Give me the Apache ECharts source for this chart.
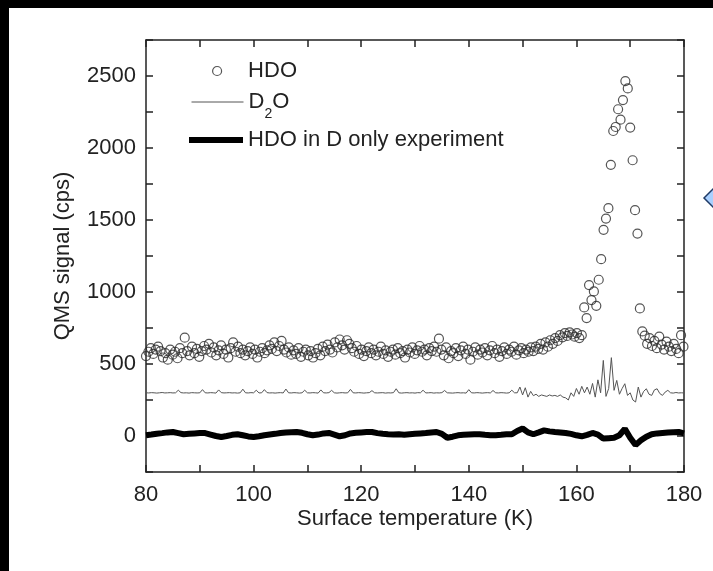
<!DOCTYPE html>
<html>
<head>
<meta charset="utf-8">
<style>
  html, body { margin: 0; padding: 0; background: #fff; }
  #chart { width: 713px; height: 571px; }
</style>
<script src="https://cdn.jsdelivr.net/npm/echarts@6/dist/echarts.min.js"></script>
</head>
<body>
<div id="chart"></div>
<script>
// HDO (open circles), sampled every 0.45 K from 80 K
const hdoStart = 80;
const hdoStep = 0.45;
const hdoSignal = [
	555, 585, 610, 570, 600, 620, 590, 545, 575, 530,
	600, 565, 585, 540, 610, 575, 683, 590, 560, 620,
	575, 605, 550, 590, 625, 600, 640, 580, 615, 560,
	595, 630, 570, 600, 545, 610, 650, 585, 620, 575,
	600, 560, 590, 615, 570, 600, 545, 585, 610, 575,
	595, 630, 605, 650, 590, 625, 660, 600, 580, 615,
	565, 595, 570, 610, 550, 585, 600, 560, 590, 545,
	575, 605, 560, 620, 590, 635, 600, 580, 650, 615,
	670, 630, 600, 665, 640, 610, 585, 625, 570, 600,
	555, 590, 615, 575, 600, 560, 585, 620, 570, 595,
	550, 585, 600, 565, 610, 575, 590, 545, 600, 580,
	615, 570, 595, 625, 585, 600, 560, 610, 590, 620,
	585, 676, 600, 560, 615, 540, 590, 575, 610, 555,
	595, 620, 570, 600, 530, 585, 615, 565, 600, 580,
	610, 560, 595, 625, 575, 600, 550, 590, 615, 570,
	600, 585, 620, 565, 595, 610, 575, 600, 585, 615,
	590, 620, 605, 640, 600, 650, 620, 665, 640, 680,
	660, 700, 685, 715, 695, 720, 705, 690, 715, 680, 700,
	893, 819, 1048, 944, 1004, 904, 1085, 1228, 1432, 1510, 1582, 1883,
	2118, 2146, 2269, 2197, 2333, 2465, 2414, 2142, 1915, 1568, 1406,
	886, 726, 697, 640, 680, 625, 660, 610, 690, 635,
	600, 655, 620, 590, 640, 605, 575, 700, 620
];

// D2O (thin line), every 0.5 K
const d2oStart = 80;
const d2oStep = 0.5;
const d2oSignal = [
	300, 299, 301, 300, 298, 300, 302, 299, 300, 301,
	299, 300, 318, 301, 299, 300, 298, 301, 300, 299,
	300, 322, 300, 299, 301, 300, 298, 320, 301, 299,
	300, 301, 299, 300, 298, 300, 325, 300, 299, 301,
	300, 318, 299, 300, 322, 301, 299, 300, 298, 300,
	301, 299, 326, 300, 299, 301, 300, 298, 300, 318,
	300, 299, 301, 300, 298, 320, 300, 299, 301, 317,
	300, 298, 300, 301, 299, 300, 324, 300, 299, 301,
	300, 298, 300, 301, 315, 300, 299, 300, 301, 298,
	300, 299, 301, 328, 300, 298, 300, 301, 299, 300,
	298, 301, 300, 318, 299, 300, 301, 298, 300, 299,
	301, 316, 300, 299, 298, 300, 301, 299, 300, 298,
	322, 300, 299, 301, 300, 298, 300, 301, 299, 316,
	300, 299, 301, 300, 298, 300, 318, 300,
	300, 340, 285, 335, 270, 310, 280, 290, 275, 285,
	280, 275, 285, 278, 282, 275, 285, 270, 265, 250,
	300, 275, 330, 290, 345, 300, 340, 290, 365, 270,
	390, 300, 525, 275, 330, 544, 317, 386, 290, 330,
	363, 282, 300, 250, 236, 340, 270, 310, 328, 290,
	282, 320, 328, 295, 282, 305, 317, 300, 298, 302,
	299, 300, 299
];

// HDO in D only experiment (thick line), every 1 K
const dOnlyStart = 80;
const dOnlyStep = 1;
const dOnlySignal = [
	5, 10, 16, 20, 25, 28, 20, 12, 15, 18,
	21, 20, 10, 0, -7, 0, 8, 12, 5, -3,
	-7, -2, 5, 10, 15, 21, 24, 26, 28, 22,
	12, 5, 10, 18, 21, 10, -2, 5, 18, 22,
	25, 27, 28, 20, 15, 12, 10, 12, 9, 12,
	15, 18, 21, 25, 28, 15, -12, -5, 5, 8,
	10, 12, 12, 8, 5, 5, 8, 12, 12, 35,
	52, 25, 12, 25, 39, 32, 28, 25, 21, 15,
	5, -2, 8, 21, 10, -18, -15, -12, 5, 50,
	-12, -62, -30, -5, 12, 18, 21, 24, 26, 28,
	18
];

const xLabels = [ 80, 100, 120, 140, 160, 180 ];
const yLabels = [ 0, 500, 1000, 1500, 2000, 2500 ];

const font = 'Liberation Sans, Arial, sans-serif';
const ink = '#222';

const toPairs = ( start, step, values ) =>
	values.map( ( v, i ) => [ +( start + i * step ).toFixed( 2 ), v ] );

const frameAxis = {
	axisLine: { show: true, onZero: false, lineStyle: { color: ink, width: 1.5 } },
	axisTick: { show: true, inside: true, length: 7, lineStyle: { color: ink, width: 1.5 } },
	splitLine: { show: false }
};

// legend boxes are placed by their drawn bounds, so lefts are offset by hand
const legendText = { color: ink, fontSize: 22, lineHeight: 24, fontFamily: font };
const noSymbol = { color: 'transparent', borderColor: 'transparent', borderWidth: 0, opacity: 0 };

const chart = echarts.init( document.getElementById( 'chart' ), null, { renderer: 'canvas' } );

chart.setOption( {
	backgroundColor: '#fff',
	animation: false,
	textStyle: { fontFamily: font },
	grid: { left: 146, right: 29, top: 40, bottom: 99, show: false },
	xAxis: [
		Object.assign( {
			type: 'value',
			min: 80,
			max: 180,
			interval: 10,
			position: 'bottom',
			name: 'Surface temperature (K)',
			nameLocation: 'middle',
			nameGap: 36,
			nameMoveOverlap: false,
			nameTextStyle: { color: ink, fontSize: 22, fontFamily: font },
			axisLabel: {
				color: ink,
				fontSize: 22,
				fontFamily: font,
				margin: 12,
				formatter: ( v ) => ( xLabels.includes( v ) ? String( v ) : '' )
			}
		}, frameAxis ),
		Object.assign( {
			type: 'value',
			min: 80,
			max: 180,
			interval: 10,
			position: 'top',
			axisLabel: { show: false }
		}, frameAxis )
	],
	yAxis: [
		Object.assign( {
			type: 'value',
			min: -250,
			max: 2750,
			interval: 250,
			position: 'left',
			name: 'QMS signal (cps)',
			nameLocation: 'middle',
			nameGap: 72,
			nameMoveOverlap: false,
			nameTextStyle: { color: ink, fontSize: 22, fontFamily: font },
			axisLabel: {
				color: ink,
				fontSize: 22,
				fontFamily: font,
				margin: 10,
				formatter: ( v ) => ( yLabels.includes( v ) ? String( v ) : '' )
			}
		}, frameAxis ),
		Object.assign( {
			type: 'value',
			min: -250,
			max: 2750,
			interval: 250,
			position: 'right',
			axisLabel: { show: false }
		}, frameAxis )
	],
	legend: [
		{
			data: [ 'HDO' ],
			left: 212,
			top: 59,
			padding: 0,
			itemWidth: 52,
			itemHeight: 9,
			selectedMode: false,
			textStyle: legendText,
			itemStyle: { color: 'transparent', borderColor: '#2a2a2a', borderWidth: 1.2 }
		},
		{
			data: [ 'D2O' ],
			left: 191,
			top: 90,
			padding: 0,
			itemWidth: 52,
			itemHeight: 9,
			selectedMode: false,
			formatter: () => 'D{s|2}O',
			textStyle: Object.assign( {}, legendText, {
				rich: { s: { fontSize: 14, fontFamily: font, color: ink, padding: [ 24, 0, 0, 0 ] } }
			} ),
			itemStyle: noSymbol,
			lineStyle: { width: 1, color: '#555' }
		},
		{
			data: [ 'HDO in D only experiment' ],
			left: 186,
			top: 128,
			padding: 0,
			itemWidth: 54,
			itemHeight: 9,
			selectedMode: false,
			textStyle: legendText,
			itemStyle: noSymbol,
			lineStyle: { width: 6, color: '#000' }
		}
	],
	series: [
		{
			name: 'HDO in D only experiment',
			type: 'line',
			data: toPairs( dOnlyStart, dOnlyStep, dOnlySignal ),
			symbol: 'none',
			showSymbol: false,
			lineStyle: { color: '#000', width: 6 },
			itemStyle: { color: '#000' },
			z: 2
		},
		{
			name: 'D2O',
			type: 'line',
			data: toPairs( d2oStart, d2oStep, d2oSignal ),
			symbol: 'none',
			showSymbol: false,
			lineStyle: { color: '#555', width: 1 },
			itemStyle: { color: '#555' },
			z: 3
		},
		{
			name: 'HDO',
			type: 'scatter',
			data: toPairs( hdoStart, hdoStep, hdoSignal ),
			symbol: 'circle',
			symbolSize: 9,
			itemStyle: { color: 'transparent', borderColor: '#2a2a2a', borderWidth: 1.2 },
			z: 4
		}
	],
	graphic: [
		{ type: 'rect', left: 0, top: 0, shape: { width: 713, height: 8 }, style: { fill: '#000' }, z: 100 },
		{ type: 'rect', left: 0, top: 0, shape: { width: 9, height: 571 }, style: { fill: '#000' }, z: 100 },
		{
			type: 'polygon',
			shape: { points: [ [ 704, 198 ], [ 713, 189 ], [ 722, 198 ], [ 713, 207 ] ] },
			style: { fill: '#a9d0ff', stroke: '#1f3a66', lineWidth: 1.5 },
			z: 100
		}
	]
} );
</script>
</body>
</html>
